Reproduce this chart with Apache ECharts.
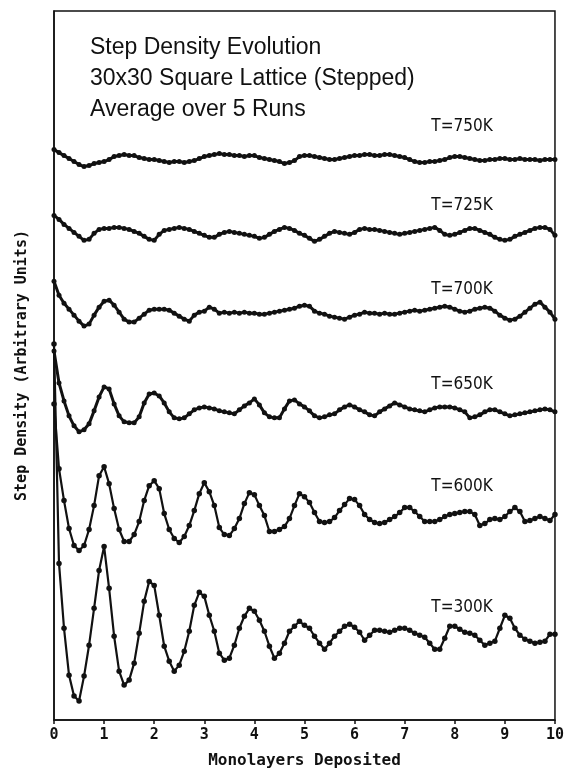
<!DOCTYPE html>
<html>
<head>
	<meta charset="utf-8">
	<script src="https://cdn.jsdelivr.net/npm/echarts@6/dist/echarts.min.js"></script>
	<style>
		html, body { margin: 0; padding: 0; background: #fff; }
	</style>
</head>
<body>
	<div id="main" style="width:567px;height:774px;"></div>
</body>
<script type="text/javascript">
// monolayers deposited (x), one sample every 0.1 ML
var monolayers = [
	0,0.1,0.2,0.3,0.4,0.5,0.6,0.7,0.8,0.9,
	1,1.1,1.2,1.3,1.4,1.5,1.6,1.7,1.8,1.9,
	2,2.1,2.2,2.3,2.4,2.5,2.6,2.7,2.8,2.9,
	3,3.1,3.2,3.3,3.4,3.5,3.6,3.7,3.8,3.9,
	4,4.1,4.2,4.3,4.4,4.5,4.6,4.7,4.8,4.9,
	5,5.1,5.2,5.3,5.4,5.5,5.6,5.7,5.8,5.9,
	6,6.1,6.2,6.3,6.4,6.5,6.6,6.7,6.8,6.9,
	7,7.1,7.2,7.3,7.4,7.5,7.6,7.7,7.8,7.9,
	8,8.1,8.2,8.3,8.4,8.5,8.6,8.7,8.8,8.9,
	9,9.1,9.2,9.3,9.4,9.5,9.6,9.7,9.8,9.9,
	10
];

// step density, arbitrary units (curves are offset)
var t750 = [
	572,569,566,563,560,557,555,556,558,559,
	560,562,565,566,567,566,566,564,563,562,
	562,561,560,559,560,560,559,560,561,563,
	565,566,567,568,567,567,566,566,565,566,
	566,564,563,562,561,560,558,559,561,565,
	566,566,565,564,563,562,562,563,564,565,
	566,566,567,567,566,566,567,567,566,565,
	564,562,560,559,559,560,560,561,562,564,
	565,565,564,563,562,561,561,562,562,563,
	563,562,562,563,562,562,562,561,562,562,
	562
];
var t725 = [
	506,502,497,493,489,485,481,482,488,492,
	493,493,494,494,493,492,490,488,485,482,
	481,487,491,492,493,494,493,492,490,488,
	486,484,484,487,489,490,489,488,487,486,
	485,483,484,487,490,492,494,493,491,488,
	486,483,480,482,485,488,490,489,488,487,
	489,492,493,492,492,491,490,489,488,487,
	488,489,490,491,492,493,494,491,487,486,
	487,489,491,493,493,491,489,487,484,482,
	481,482,485,487,489,491,493,494,494,492,
	486
];
var t700 = [
	440,426,418,412,406,400,395,397,406,414,
	420,421,416,409,402,399,399,403,407,411,
	412,412,412,411,408,405,402,400,406,409,
	410,414,412,408,409,408,409,408,409,408,
	408,407,407,408,409,410,411,412,413,415,
	416,415,410,408,407,405,404,403,402,404,
	406,407,409,408,408,407,408,407,407,408,
	409,410,411,410,411,412,413,414,415,414,
	412,410,409,410,412,413,414,413,410,406,
	403,401,402,405,409,413,417,419,414,409,
	402
];
var t650 = [
	370,338,320,305,295,289,291,297,310,324,
	334,332,317,305,299,298,298,304,318,327,
	328,325,318,309,303,302,303,307,311,313,
	314,313,312,310,309,308,307,311,315,318,
	322,316,308,304,303,303,312,320,321,317,
	314,310,305,303,304,306,307,311,314,316,
	314,311,309,306,305,309,312,315,318,316,
	314,312,311,310,309,311,313,314,314,314,
	313,311,309,303,304,306,309,311,311,309,
	307,305,306,307,308,309,310,311,312,311,
	309
];
var t600 = [
	317,252,220,192,175,170,175,191,215,245,
	254,237,212,191,179,179,186,199,220,235,
	240,232,207,191,182,178,184,195,210,227,
	238,229,215,193,186,185,192,202,217,228,
	226,215,205,189,189,191,194,202,215,227,
	224,218,208,199,198,199,203,210,216,222,
	221,215,206,201,198,197,198,201,204,208,
	213,213,209,204,199,199,199,201,204,206,
	207,208,209,209,206,195,197,201,202,201,
	204,209,213,209,199,200,202,204,202,200,
	206
];
var t300 = [
	377,157,92,45,24,19,44,75,112,150,
	174,132,84,49,35,40,57,87,119,139,
	135,105,74,59,49,55,69,89,115,128,
	124,105,89,67,60,62,75,92,104,112,
	109,100,89,74,62,67,77,89,94,99,
	95,92,84,77,71,77,84,89,94,96,
	93,88,80,85,90,90,89,88,90,92,
	92,90,87,85,83,77,71,71,82,94,
	94,91,88,87,85,80,75,77,79,92,
	105,102,92,85,81,79,77,78,79,86,
	86
];

var curves = [t750, t725, t700, t650, t600, t300];
var tempLabels = ['T=750K', 'T=725K', 'T=700K', 'T=650K', 'T=600K', 'T=300K'];
var xTicks = ['0','1','2','3','4','5','6','7','8','9','10'];

// layout only: vertical pixel centre of each temperature label
var labelTop = [127, 206, 290, 385, 487, 608];

var ink = '#111';
var monoFont = '"DejaVu Sans Mono", monospace';

var series = [];
for (var s = 0; s < curves.length; s++) {
	var pts = [];
	for (var i = 0; i < monolayers.length; i++) {
		pts.push([monolayers[i], curves[s][i]]);
	}
	series.push({
		name: tempLabels[s],
		type: 'line',
		data: pts,
		symbol: 'circle',
		symbolSize: s < 4 ? 5 : 5.5,
		showSymbol: true,
		itemStyle: { color: ink },
		lineStyle: { color: ink, width: s < 4 ? 3 : 2.2 },
		animation: false,
		silent: true
	});
}

var graphics = [];
for (var k = 0; k < tempLabels.length; k++) {
	graphics.push({
		type: 'text',
		x: 462,
		y: labelTop[k],
		style: {
			text: tempLabels[k],
			fill: ink,
			font: '17px "Liberation Sans Narrow", "DejaVu Sans Condensed", "Liberation Sans", sans-serif',
			align: 'center',
			verticalAlign: 'middle',
			textAlign: 'center',
			textVerticalAlign: 'middle'
		}
	});
}

var option = {
	backgroundColor: '#fff',
	animation: false,
	title: {
		text: 'Step Density Evolution\n30x30 Square Lattice (Stepped)\nAverage over 5 Runs',
		left: 90,
		top: 32,
		padding: 0,
		textStyle: {
			color: ink,
			fontSize: 23,
			fontWeight: 'normal',
			fontFamily: '"Liberation Sans", Arial, sans-serif',
			lineHeight: 31
		}
	},
	grid: {
		left: 54,
		right: 12,
		top: 11,
		bottom: 52,
		show: true,
		borderColor: ink,
		borderWidth: 1.5
	},
	xAxis: {
		type: 'value',
		min: 0,
		max: 10,
		interval: 1,
		name: 'Monolayers Deposited',
		nameLocation: 'middle',
		nameGap: 33,
		nameTextStyle: {
			color: ink,
			fontFamily: monoFont,
			fontWeight: 'bold',
			fontSize: 16
		},
		axisLine: { lineStyle: { color: ink, width: 1.5 } },
		axisTick: { show: true, length: 4, lineStyle: { color: ink, width: 1.5 } },
		axisLabel: {
			color: ink,
			margin: 8,
			fontFamily: monoFont,
			fontWeight: 'bold',
			fontSize: 15,
			formatter: function (v) { return xTicks[Math.round(v)]; }
		},
		splitLine: { show: false }
	},
	yAxis: {
		type: 'value',
		min: 0,
		max: 711,
		name: 'Step Density (Arbitrary Units)',
		nameLocation: 'middle',
		nameRotate: 90,
		nameGap: 24,
		nameTextStyle: {
			color: ink,
			fontFamily: monoFont,
			fontWeight: 'bold',
			fontSize: 15
		},
		axisLine: { show: true, lineStyle: { color: ink, width: 1.5 } },
		axisTick: { show: false },
		axisLabel: { show: false },
		splitLine: { show: false }
	},
	graphic: graphics,
	series: series
};

var myChart = echarts.init(document.getElementById('main'));
myChart.setOption(option);
</script>
</html>
